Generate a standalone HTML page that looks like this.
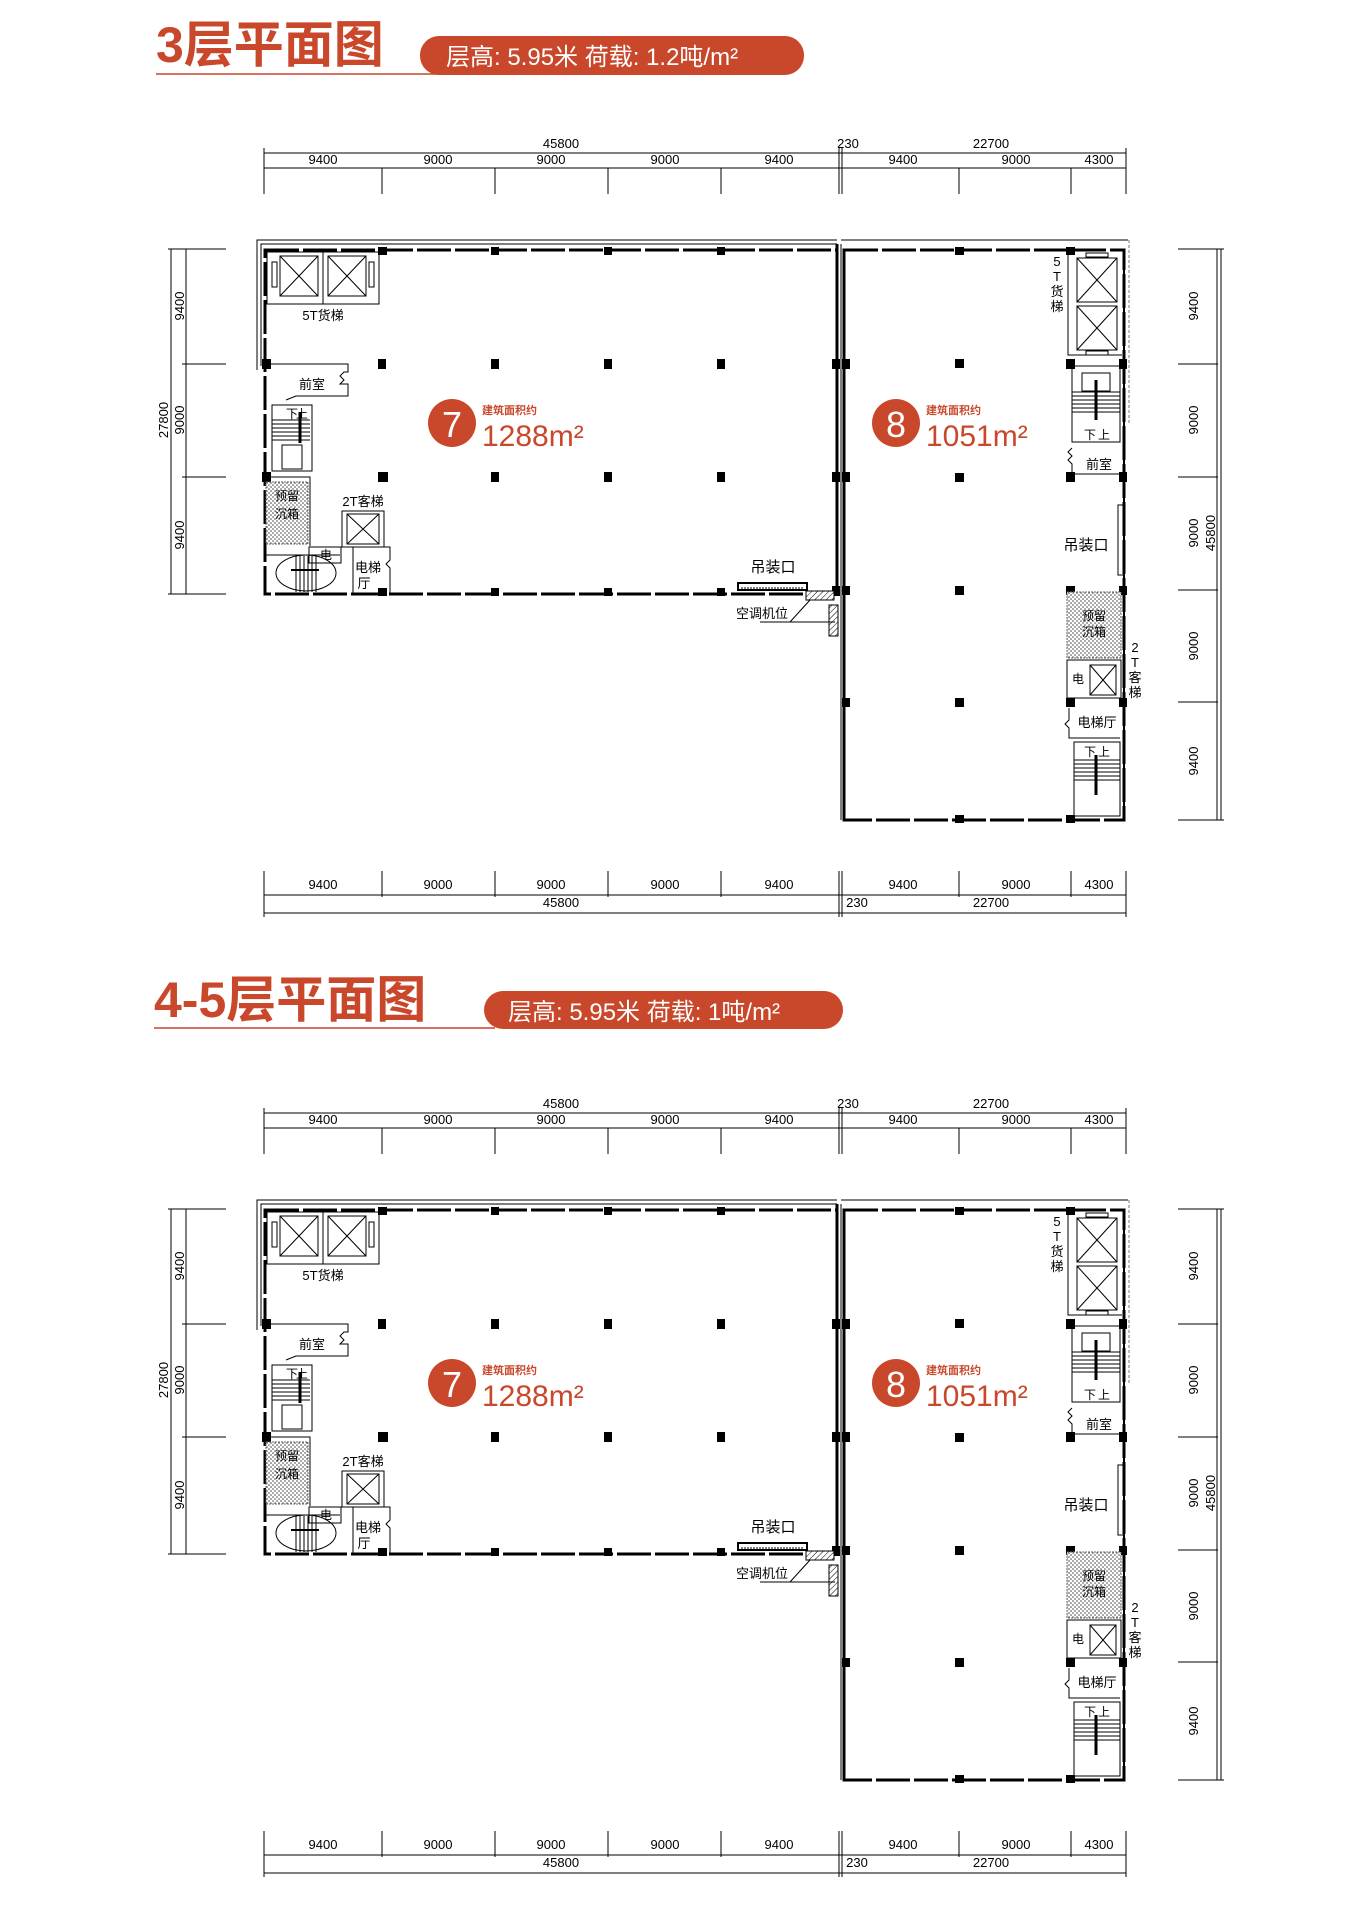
<!DOCTYPE html>
<html><head><meta charset="utf-8">
<style>
html,body{margin:0;padding:0;background:#fff;}
svg{display:block;}
text{font-family:"Liberation Sans","Noto Sans CJK SC",sans-serif;}
</style></head>
<body>
<svg width="1371" height="1920" viewBox="0 0 1371 1920" xmlns="http://www.w3.org/2000/svg">
<defs>
<pattern id="dots" width="4" height="4" patternUnits="userSpaceOnUse"><rect width="4" height="4" fill="#fff"/><circle cx="1" cy="1" r="0.8" fill="#444"/><circle cx="3" cy="3" r="0.8" fill="#444"/></pattern>
<pattern id="hatch" width="4" height="4" patternUnits="userSpaceOnUse" patternTransform="rotate(45)"><rect width="4" height="4" fill="#fff"/><line x1="0" y1="0" x2="0" y2="4" stroke="#000" stroke-width="1"/></pattern>
<g id="plan">
 <g font-size="13" fill="#000" text-anchor="middle">
  <text x="561" y="148">45800</text><text x="848" y="148">230</text><text x="991" y="148">22700</text>
  <text x="323" y="164">9400</text><text x="438" y="164">9000</text><text x="551" y="164">9000</text><text x="665" y="164">9000</text><text x="779" y="164">9400</text><text x="903" y="164">9400</text><text x="1016" y="164">9000</text><text x="1099" y="164">4300</text>
 </g>
 <g stroke="#000" stroke-width="1">
  <line x1="264" y1="153" x2="1126" y2="153"/><line x1="264" y1="168" x2="1126" y2="168"/>
  <line x1="264" y1="148" x2="264" y2="194"/><line x1="382" y1="168" x2="382" y2="194"/><line x1="495" y1="168" x2="495" y2="194"/><line x1="608" y1="168" x2="608" y2="194"/><line x1="721" y1="168" x2="721" y2="194"/><line x1="839" y1="148" x2="839" y2="194"/><line x1="842" y1="148" x2="842" y2="194"/><line x1="959" y1="168" x2="959" y2="194"/><line x1="1071" y1="168" x2="1071" y2="194"/><line x1="1126" y1="148" x2="1126" y2="194"/>
 </g>
 <g font-size="13" fill="#000" text-anchor="middle">
  <text x="323" y="889">9400</text><text x="438" y="889">9000</text><text x="551" y="889">9000</text><text x="665" y="889">9000</text><text x="779" y="889">9400</text><text x="903" y="889">9400</text><text x="1016" y="889">9000</text><text x="1099" y="889">4300</text>
  <text x="561" y="907">45800</text><text x="857" y="907">230</text><text x="991" y="907">22700</text>
 </g>
 <g stroke="#000" stroke-width="1">
  <line x1="264" y1="895" x2="1126" y2="895"/><line x1="264" y1="913" x2="1126" y2="913"/>
  <line x1="264" y1="871" x2="264" y2="917"/><line x1="382" y1="871" x2="382" y2="897"/><line x1="495" y1="871" x2="495" y2="897"/><line x1="608" y1="871" x2="608" y2="897"/><line x1="721" y1="871" x2="721" y2="897"/><line x1="839" y1="871" x2="839" y2="917"/><line x1="842" y1="871" x2="842" y2="917"/><line x1="959" y1="871" x2="959" y2="897"/><line x1="1071" y1="871" x2="1071" y2="897"/><line x1="1126" y1="871" x2="1126" y2="917"/>
 </g>
 <g stroke="#000" stroke-width="1">
  <line x1="168" y1="249" x2="226" y2="249"/><line x1="182" y1="364" x2="226" y2="364"/><line x1="182" y1="477" x2="226" y2="477"/><line x1="168" y1="594" x2="226" y2="594"/>
  <line x1="186" y1="249" x2="186" y2="594"/><line x1="171" y1="249" x2="171" y2="594"/>
 </g>
 <g font-size="13" fill="#000" text-anchor="middle">
  <text transform="translate(184,306) rotate(-90)">9400</text><text transform="translate(184,420) rotate(-90)">9000</text><text transform="translate(184,535) rotate(-90)">9400</text><text transform="translate(168,420) rotate(-90)">27800</text>
 </g>
 <g stroke="#000" stroke-width="1">
  <line x1="1178" y1="249" x2="1224" y2="249"/><line x1="1178" y1="364" x2="1218" y2="364"/><line x1="1178" y1="477" x2="1218" y2="477"/><line x1="1178" y1="590" x2="1218" y2="590"/><line x1="1178" y1="702" x2="1218" y2="702"/><line x1="1178" y1="820" x2="1224" y2="820"/>
  <line x1="1217" y1="249" x2="1217" y2="820"/><line x1="1221" y1="249" x2="1221" y2="820"/>
 </g>
 <g font-size="13" fill="#000" text-anchor="middle">
  <text transform="translate(1198,306) rotate(-90)">9400</text><text transform="translate(1198,420) rotate(-90)">9000</text><text transform="translate(1198,533) rotate(-90)">9000</text><text transform="translate(1198,646) rotate(-90)">9000</text><text transform="translate(1198,761) rotate(-90)">9400</text><text transform="translate(1215,533) rotate(-90)">45800</text>
 </g>
 <path d="M257 370 V240 H837" fill="none" stroke="#000" stroke-width="1"/>
 <path d="M261 366 V244 H837" fill="none" stroke="#000" stroke-width="1"/>
 <rect x="265" y="250" width="572" height="344" fill="none" stroke="#000" stroke-width="3" stroke-dasharray="34 4"/>
 <line x1="837" y1="244" x2="837" y2="594" stroke="#000" stroke-width="3"/>
 <line x1="841" y1="244" x2="841" y2="820" stroke="#000" stroke-width="1"/>
 <path d="M841 240 H1128" fill="none" stroke="#000" stroke-width="1"/>
 <line x1="1129" y1="240" x2="1129" y2="425" stroke="#777" stroke-width="1" stroke-dasharray="3 2"/>
 <rect x="844" y="250" width="280" height="570" fill="none" stroke="#000" stroke-width="3" stroke-dasharray="34 4"/>
 <line x1="844" y1="250" x2="844" y2="820" stroke="#000" stroke-width="3"/>
 <line x1="1124" y1="250" x2="1124" y2="820" stroke="#000" stroke-width="2"/>
 <g fill="#000">
  <rect x="378" y="247" width="9" height="8"/><rect x="491" y="247" width="8" height="8"/><rect x="604" y="247" width="8" height="8"/><rect x="717" y="247" width="8" height="8"/>
  <rect x="262" y="359" width="9" height="10"/><rect x="378" y="359" width="8" height="10"/><rect x="491" y="359" width="8" height="10"/><rect x="604" y="359" width="8" height="10"/><rect x="717" y="359" width="8" height="10"/><rect x="832" y="359" width="8" height="10"/>
  <rect x="262" y="472" width="9" height="10"/><rect x="378" y="472" width="10" height="10"/><rect x="491" y="472" width="8" height="10"/><rect x="604" y="472" width="8" height="10"/><rect x="717" y="472" width="8" height="10"/><rect x="832" y="472" width="8" height="10"/>
  <rect x="378" y="588" width="9" height="8"/><rect x="491" y="588" width="8" height="8"/><rect x="604" y="588" width="8" height="8"/><rect x="717" y="588" width="8" height="8"/><rect x="832" y="586" width="8" height="10"/>
  <rect x="842" y="359" width="8" height="10"/><rect x="955" y="359" width="9" height="9"/><rect x="1066" y="359" width="9" height="10"/><rect x="1119" y="359" width="8" height="10"/>
  <rect x="842" y="472" width="8" height="10"/><rect x="955" y="473" width="9" height="9"/><rect x="1066" y="472" width="9" height="10"/><rect x="1119" y="472" width="8" height="10"/>
  <rect x="842" y="586" width="8" height="9"/><rect x="955" y="586" width="9" height="9"/><rect x="1066" y="586" width="9" height="9"/><rect x="1119" y="586" width="8" height="9"/>
  <rect x="842" y="698" width="8" height="9"/><rect x="955" y="698" width="9" height="9"/><rect x="1066" y="698" width="9" height="9"/><rect x="1119" y="698" width="8" height="9"/>
  <rect x="955" y="815" width="9" height="8"/><rect x="1066" y="815" width="9" height="8"/><rect x="1066" y="247" width="9" height="8"/><rect x="955" y="247" width="9" height="8"/>
 </g>
 <g fill="none" stroke="#000" stroke-width="1">
  <rect x="267" y="252" width="56" height="52"/><rect x="323" y="252" width="56" height="52"/>
  <rect x="280" y="256" width="38" height="40"/><path d="M280 256 L318 296 M318 256 L280 296"/>
  <rect x="328" y="256" width="38" height="40"/><path d="M328 256 L366 296 M366 256 L328 296"/>
  <rect x="272" y="262" width="5" height="25"/><rect x="369" y="262" width="5" height="25"/>
  <path d="M266 364 H348 V372 H344 L340 376 L344 380 L340 384 H348 V396 H296 L286 400"/>
  <rect x="272" y="405" width="40" height="66"/>
  <path d="M272 420 H310 M272 424 H310 M272 428 H310 M272 432 H310 M272 436 H310 M272 440 H310"/>
  <line x1="300" y1="412" x2="300" y2="443" stroke-width="3"/>
  <rect x="282" y="445" width="20" height="24"/>
  <path d="M266 477 H310 V546"/>
  <rect x="266" y="482" width="42" height="62" fill="url(#dots)" stroke="#666" stroke-dasharray="2 1"/>
  <rect x="342" y="511" width="42" height="36"/><rect x="347" y="514" width="32" height="30"/><path d="M347 514 L379 544 M379 514 L347 544"/>
  <rect x="309" y="547" width="32" height="16"/>
  <path d="M266 555 H340"/>
  <ellipse cx="306" cy="573" rx="30" ry="18"/>
  <path d="M296 556 V592 M300 556 V592 M304 556 V592 M308 556 V592 M312 556 V592 M316 556 V592"/>
  <line x1="291" y1="570" x2="319" y2="570" stroke-width="2"/>
  <path d="M353 547 V594 M384 547 H390 V560 L386 564 L390 568 V594"/>
 </g>
 <g font-size="13" fill="#000" text-anchor="middle">
  <text x="323" y="320">5T货梯</text><text x="312" y="389">前室</text><text x="363" y="506">2T客梯</text>
  <text x="287" y="500" font-size="12">预留</text><text x="287" y="518" font-size="12">沉箱</text>
  <text x="326" y="559" font-size="12">电</text><text x="368" y="572" font-size="13">电梯</text><text x="364" y="588" font-size="13">厅</text>
  <text x="292" y="418" font-size="12">下</text><text x="302" y="418" font-size="12">上</text>
 </g>
 <rect x="738" y="583" width="69" height="7" fill="#fff" stroke="#000" stroke-width="2"/>
 <line x1="741" y1="588" x2="804" y2="588" stroke="#000" stroke-dasharray="2 1"/>
 <rect x="806" y="591" width="28" height="9" fill="url(#hatch)" stroke="#000"/>
 <rect x="829" y="605" width="9" height="31" fill="url(#hatch)" stroke="#000"/>
 <path d="M760 622 H835 M790 622 L810 600" fill="none" stroke="#000"/>
 <text x="773" y="572" font-size="15" text-anchor="middle">吊装口</text>
 <text x="762" y="618" font-size="13" text-anchor="middle">空调机位</text>
 <g fill="none" stroke="#000" stroke-width="1">
  <path d="M1068 252 V355 H1122"/>
  <rect x="1077" y="258" width="40" height="44"/><path d="M1077 258 L1117 302 M1117 258 L1077 302"/>
  <rect x="1077" y="306" width="40" height="44"/><path d="M1077 306 L1117 350 M1117 306 L1077 350"/>
  <rect x="1086" y="253" width="22" height="4"/><rect x="1086" y="351" width="22" height="4"/>
  <rect x="1072" y="366" width="48" height="76"/>
  <rect x="1082" y="373" width="28" height="18"/>
  <path d="M1072 392 H1120 M1072 396 H1120 M1072 400 H1120 M1072 404 H1120 M1072 408 H1120 M1072 412 H1120"/>
  <line x1="1096" y1="380" x2="1096" y2="420" stroke-width="3"/>
  <path d="M1072 448 L1068 452 L1072 456 L1068 460 L1072 464 V474 H1120"/>
  <rect x="1118" y="505" width="6" height="70"/>
  <rect x="1067" y="592" width="54" height="66" fill="url(#dots)" stroke="#666" stroke-dasharray="2 1"/>
  <rect x="1067" y="660" width="54" height="38"/><rect x="1090" y="665" width="26" height="30"/><path d="M1090 665 L1116 695 M1116 665 L1090 695"/>
  <path d="M1069 708 V720 L1065 724 L1069 728 V738 H1120"/>
  <rect x="1074" y="742" width="46" height="74"/>
  <path d="M1074 760 H1120 M1074 764 H1120 M1074 768 H1120 M1074 772 H1120 M1074 776 H1120 M1074 780 H1120"/>
  <line x1="1096" y1="755" x2="1096" y2="795" stroke-width="3"/>
 </g>
 <g font-size="13" fill="#000" text-anchor="middle">
  <text x="1057" y="266">5</text><text x="1057" y="281">T</text><text x="1057" y="296">货</text><text x="1057" y="311">梯</text>
  <text x="1090" y="439" font-size="12">下</text><text x="1104" y="439" font-size="12">上</text>
  <text x="1099" y="469">前室</text>
  <text x="1086" y="550" font-size="15">吊装口</text>
  <text x="1094" y="620" font-size="12">预留</text><text x="1094" y="636" font-size="12">沉箱</text>
  <text x="1078" y="683" font-size="12">电</text>
  <text x="1135" y="652">2</text><text x="1135" y="667">T</text><text x="1135" y="682">客</text><text x="1135" y="697">梯</text>
  <text x="1097" y="727">电梯厅</text>
  <text x="1090" y="756" font-size="12">下</text><text x="1104" y="756" font-size="12">上</text>
 </g>
 <circle cx="452" cy="423" r="24" fill="#c9472a"/>
 <text x="452" y="437" font-size="36" fill="#fff" text-anchor="middle">7</text>
 <text x="482" y="414" font-size="11" font-weight="bold" fill="#c9472a">建筑面积约</text>
 <text x="482" y="446" font-size="30" fill="#c9472a">1288m²</text>
 <circle cx="896" cy="423" r="24" fill="#c9472a"/>
 <text x="896" y="437" font-size="36" fill="#fff" text-anchor="middle">8</text>
 <text x="926" y="414" font-size="11" font-weight="bold" fill="#c9472a">建筑面积约</text>
 <text x="926" y="446" font-size="30" fill="#c9472a">1051m²</text>
</g>
</defs>

<text x="156" y="62" font-size="50" font-weight="bold" fill="#c9472a">3层平面图</text>
<line x1="156" y1="74" x2="440" y2="74" stroke="#c9472a" stroke-width="1.5"/>
<rect x="420" y="36" width="384" height="39" rx="19" fill="#c9472a"/>
<text x="446" y="65" font-size="24" fill="#fff">层高: 5.95米  荷载: 1.2吨/m²</text>
<use href="#plan"/>

<text x="154" y="1017" font-size="50" font-weight="bold" fill="#c9472a">4-5层平面图</text>
<line x1="154" y1="1028" x2="495" y2="1028" stroke="#c9472a" stroke-width="1.5"/>
<rect x="484" y="991" width="359" height="38" rx="19" fill="#c9472a"/>
<text x="508" y="1020" font-size="24" fill="#fff">层高: 5.95米  荷载: 1吨/m²</text>
<use href="#plan" transform="translate(0,960)"/>
</svg>
</body></html>
